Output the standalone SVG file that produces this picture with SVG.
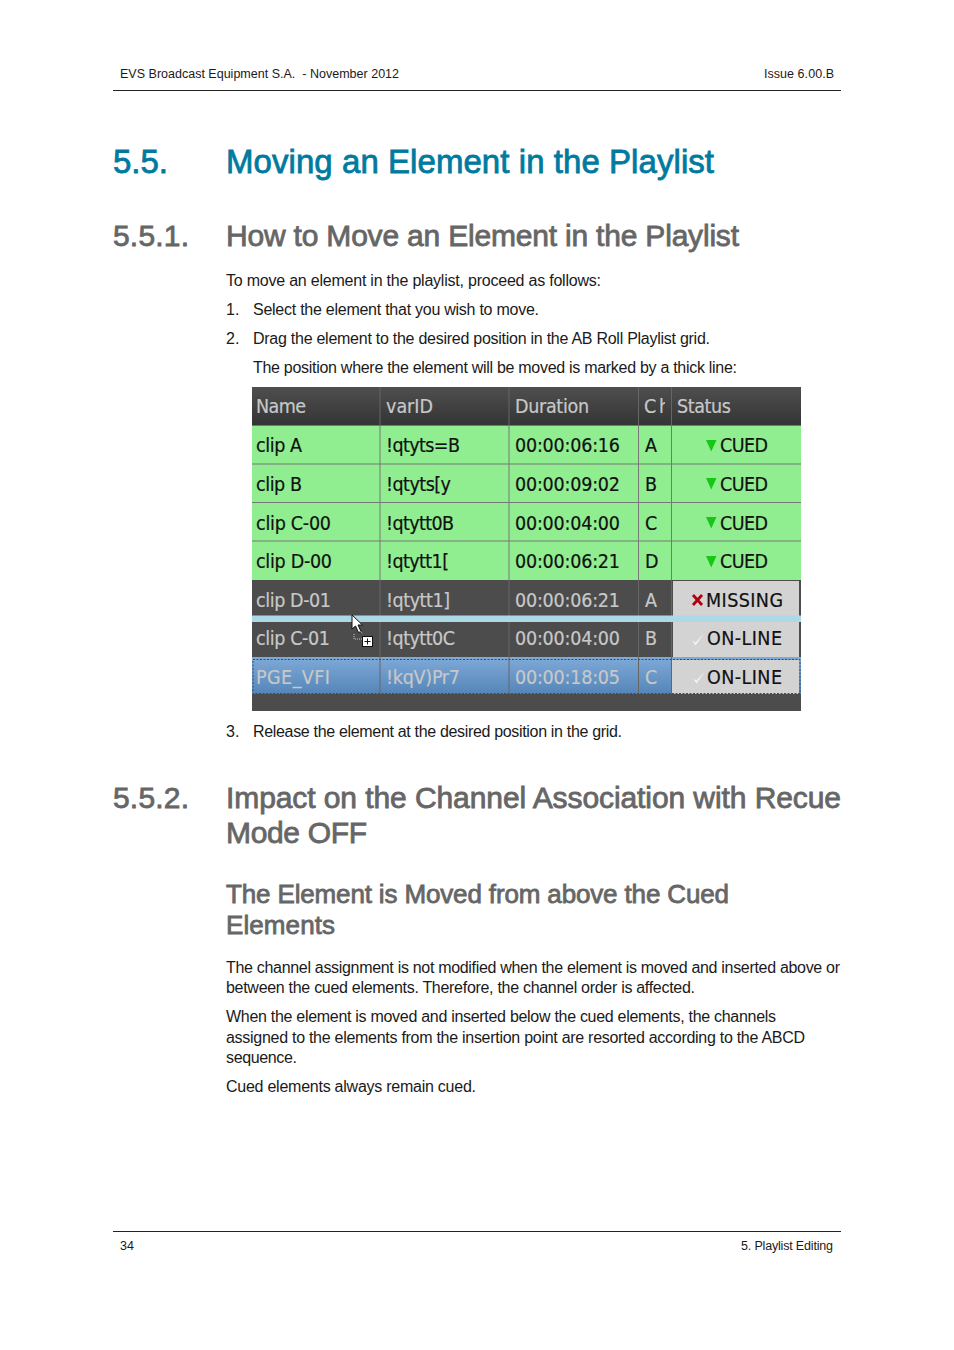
<svg xmlns="http://www.w3.org/2000/svg" width="954" height="1350" viewBox="0 0 954 1350">
<style>
.b{font:16px "Liberation Sans",Arial,sans-serif;fill:#1a1a1a}
.s{font:12.5px "Liberation Sans",Arial,sans-serif;fill:#1a1a1a;white-space:pre}
.h1{font:33px "Liberation Sans",Arial,sans-serif;fill:#007a9f;stroke:#007a9f;stroke-width:.8}
.h2{font:30px "Liberation Sans",Arial,sans-serif;fill:#666;stroke:#666;stroke-width:.8}
.h3{font:26px "Liberation Sans",Arial,sans-serif;fill:#666;stroke:#666;stroke-width:.8}
.t{font:19.5px "DejaVu Sans Condensed","DejaVu Sans",sans-serif;fill:#111;stroke:#111;stroke-width:.2}
.d{fill:#c8c8c8;stroke:#c8c8c8}
.g{stroke:#777;stroke-width:1;fill:none}
.gd{stroke:#666;stroke-width:1;fill:none}
</style>
<defs>
<linearGradient id="hd" x1="0" y1="0" x2="0" y2="1"><stop offset="0" stop-color="#4f4f4f"/><stop offset="1" stop-color="#343434"/></linearGradient>
<linearGradient id="sel" x1="0" y1="0" x2="0" y2="1"><stop offset="0" stop-color="#7eaad8"/><stop offset="1" stop-color="#5585b8"/></linearGradient>
<clipPath id="ch"><rect x="640" y="390" width="25" height="32"/></clipPath>
<path id="cue" d="M0 0h10.500l-5.250 11.500z" fill="#16c716"/>
<path id="chk" d="M0 6.500l3.500 5 8.500-12-8.500 9z" fill="#f4f4f4"/>
</defs>
<g id="header">
<text class="s" x="120" y="78" textLength="279">EVS Broadcast Equipment S.A.  - November 2012</text>
<text class="s" x="764" y="78" textLength="70">Issue 6.00.B</text>
<path d="M113 90.500H841" stroke="#222" fill="none"/>
</g>
<g id="headings">
<text class="h1" x="113" y="173" textLength="55">5.5.</text>
<text class="h1" x="226" y="173" textLength="488">Moving an Element in the Playlist</text>
<text class="h2" x="113" y="246" textLength="76">5.5.1.</text>
<text class="h2" x="226" y="246" textLength="513">How to Move an Element in the Playlist</text>
<text class="h2" x="113" y="808" textLength="76">5.5.2.</text>
<text class="h2" x="226" y="808" textLength="615">Impact on the Channel Association with Recue</text>
<text class="h2" x="226" y="843" textLength="141">Mode OFF</text>
<text class="h3" x="226" y="902.500" textLength="503">The Element is Moved from above the Cued</text>
<text class="h3" x="226" y="933.500" textLength="109">Elements</text>
</g>
<g id="body">
<text class="b" x="226" y="286" textLength="375">To move an element in the playlist, proceed as follows:</text>
<text class="b" x="226" y="315">1.</text><text class="b" x="253" y="315" textLength="286">Select the element that you wish to move.</text>
<text class="b" x="226" y="344">2.</text><text class="b" x="253" y="344" textLength="457">Drag the element to the desired position in the AB Roll Playlist grid.</text>
<text class="b" x="253" y="373" textLength="484">The position where the element will be moved is marked by a thick line:</text>
<text class="b" x="226" y="737">3.</text><text class="b" x="253" y="737" textLength="369">Release the element at the desired position in the grid.</text>
<text class="b" x="226" y="973" textLength="614">The channel assignment is not modified when the element is moved and inserted above or</text>
<text class="b" x="226" y="993" textLength="469">between the cued elements. Therefore, the channel order is affected.</text>
<text class="b" x="226" y="1022" textLength="550">When the element is moved and inserted below the cued elements, the channels</text>
<text class="b" x="226" y="1043" textLength="579">assigned to the elements from the insertion point are resorted according to the ABCD</text>
<text class="b" x="226" y="1063" textLength="71">sequence.</text>
<text class="b" x="226" y="1092" textLength="250">Cued elements always remain cued.</text>
</g>
<g id="table">
<rect x="252" y="387" width="549" height="324" fill="#4c4c4c"/>
<rect x="252" y="387" width="549" height="38" fill="url(#hd)"/>
<rect x="252" y="425" width="549" height="155" fill="#90ee90"/>
<rect x="252" y="657" width="549" height="37" fill="url(#sel)"/>
<rect x="673" y="581" width="126" height="35" fill="#d3d3d3"/>
<rect x="673" y="622" width="126" height="35" fill="#d3d3d3"/>
<rect x="672" y="660" width="127" height="34" fill="#d3d3d3"/>
<path class="g" d="M252 425.500H801M252 464H801M252 502.500H801M252 541H801M380 425V580M509 425V580M638.500 425V580M671.500 425V580"/>
<path class="gd" d="M380 387V425M509 387V425M638.500 387V425M671.500 387V425M380 580V694M509 580V694M638.500 580V694M671.500 580V694"/>
<path d="M253 659.500H800V693.500H253Z" fill="none" stroke="#33506e" stroke-dasharray="2 1.500"/>
<rect x="252" y="615.500" width="549" height="6.500" fill="#add8e6"/>
<text class="t d" x="256" y="413" textLength="50">Name</text><text class="t d" x="386" y="413" textLength="47">varID</text><text class="t d" x="515" y="413" textLength="74">Duration</text><text class="t d" x="644" y="413" textLength="26" clip-path="url(#ch)">Ch</text><text class="t d" x="677" y="413" textLength="54">Status</text>
<text class="t" x="256" y="452" textLength="46">clip A</text><text class="t" x="386" y="452" textLength="74">!qtyts=B</text><text class="t" x="515" y="452" textLength="105">00:00:06:16</text><text class="t" x="645" y="452">A</text><text class="t" x="720" y="452" textLength="48">CUED</text>
<text class="t" x="256" y="491" textLength="46">clip B</text><text class="t" x="386" y="491" textLength="65">!qtyts[y</text><text class="t" x="515" y="491" textLength="105">00:00:09:02</text><text class="t" x="645" y="491">B</text><text class="t" x="720" y="491" textLength="48">CUED</text>
<text class="t" x="256" y="530" textLength="75">clip C-00</text><text class="t" x="386" y="530" textLength="68">!qtytt0B</text><text class="t" x="515" y="530" textLength="105">00:00:04:00</text><text class="t" x="645" y="530">C</text><text class="t" x="720" y="530" textLength="48">CUED</text>
<text class="t" x="256" y="568" textLength="76">clip D-00</text><text class="t" x="386" y="568" textLength="63">!qtytt1[</text><text class="t" x="515" y="568" textLength="105">00:00:06:21</text><text class="t" x="645" y="568">D</text><text class="t" x="720" y="568" textLength="48">CUED</text>
<text class="t d" x="256" y="607" textLength="75">clip D-01</text><text class="t d" x="386" y="607" textLength="64">!qtytt1]</text><text class="t d" x="515" y="607" textLength="105">00:00:06:21</text><text class="t d" x="645" y="607">A</text><text class="t" x="706" y="607" textLength="77">MISSING</text>
<text class="t d" x="256" y="645" textLength="74">clip C-01</text><text class="t d" x="386" y="645" textLength="69">!qtytt0C</text><text class="t d" x="515" y="645" textLength="105">00:00:04:00</text><text class="t d" x="645" y="645">B</text><text class="t" x="707" y="645" textLength="75">ON-LINE</text>
<text class="t d" x="256" y="684" textLength="74">PGE_VFI</text><text class="t d" x="386" y="684" textLength="74">!kqV)Pr7</text><text class="t d" x="515" y="684" textLength="105">00:00:18:05</text><text class="t d" x="645" y="684">C</text><text class="t" x="707" y="684" textLength="75">ON-LINE</text>
<use href="#cue" x="706" y="440"/><use href="#cue" x="706" y="478"/><use href="#cue" x="706" y="517"/><use href="#cue" x="706" y="556"/>
<path d="M693 595l9 10M702 595l-9 10" stroke="#b00010" stroke-width="2.800" fill="none"/>
<use href="#chk" x="692" y="634"/><use href="#chk" x="693" y="672"/>
<path d="M352 615v14l3.500-3 3 6.500 2.500-1-3-6.500h4.500z" fill="#fff" stroke="#111"/>
<path d="M354 634v5h8M360 631l3 3" fill="none" stroke="#ccc" stroke-dasharray="1 1"/>
<rect x="362.500" y="636.500" width="10" height="10" fill="#fff" stroke="#111"/>
<path d="M364.500 641.500h6M367.500 638.500v6" stroke="#111" fill="none"/>
</g>
<g id="footer">
<path d="M113 1231.500H841" stroke="#222" fill="none"/>
<text class="s" x="120" y="1250">34</text>
<text class="s" x="741" y="1250" textLength="92">5. Playlist Editing</text>
</g>
</svg>
